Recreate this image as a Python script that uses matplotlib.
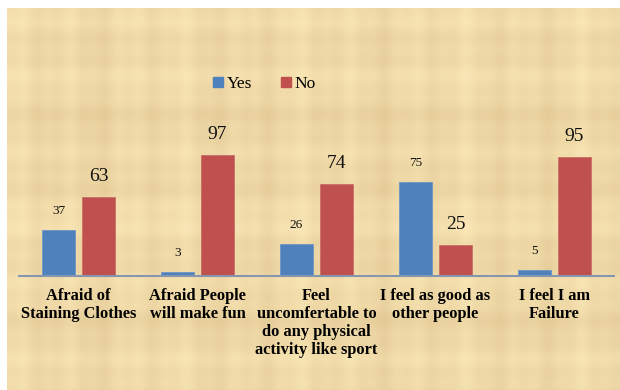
import matplotlib
matplotlib.use("Agg")
import matplotlib.pyplot as plt
import numpy as np
from matplotlib.patches import Rectangle
from matplotlib.lines import Line2D

categories = [
    "Afraid of\nStaining Clothes",
    "Afraid People\nwill make fun",
    "Feel\nuncomfertable to\ndo any physical\nactivity like sport",
    "I feel as good as\nother people",
    "I feel I am\nFailure",
]
yes_values = [37, 3, 26, 75, 5]
no_values = [63, 97, 74, 25, 95]
series_names = ["Yes", "No"]

BLUE = "#4F81BD"
RED = "#C0504D"
SERIF = ["Liberation Serif", "DejaVu Serif"]

W, H = 620, 390
fig = plt.figure(figsize=(W / 100, H / 100), dpi=100, facecolor="white")

# parchment-like chart area: a light tan with faint woven bands
bg = fig.add_axes([0, 0, 1, 1], zorder=-1)
bg.set_xlim(0, W)
bg.set_ylim(H, 0)
bg.axis("off")
xs = np.arange(7, W) + 0.5
ys = np.arange(8, H) + 0.5
XX, YY = np.meshgrid(xs, ys)
weave = (0.45 * np.sin(XX / 9.0) + 0.3 * np.sin(XX / 3.7 + 1.3) + 0.25 * np.sin(XX / 23.0 + 0.7)
         + 0.45 * np.sin(YY / 11.0 + 0.4) + 0.3 * np.sin(YY / 4.1 + 2.1) + 0.25 * np.sin(YY / 29.0))
weave = weave / np.abs(weave).max()
base = np.array([239, 217, 167]) / 255.0
shade = np.array([12, 14, 16]) / 255.0
tex = np.clip(base[None, None, :] + weave[..., None] * shade[None, None, :], 0, 1)
bg.imshow(tex, extent=(7, W, H, 8), interpolation="bilinear", aspect="auto")
bg.set_xlim(0, W)
bg.set_ylim(H, 0)

ax = fig.add_axes([19 / W, (H - 276) / H, 595 / W, 150 / H])
ax.patch.set_alpha(0)

x = np.arange(len(categories))
width = 0.27
offset = 0.168
ax.bar(x - offset, yes_values, width, color=BLUE, edgecolor="#6D95C6", linewidth=0.6)
ax.bar(x + offset, no_values, width, color=RED, edgecolor="#C96E6B", linewidth=0.6)

for xi, v in zip(x, yes_values):
    ax.annotate(str(v), (xi - offset, v), xytext=(0, 11.5), textcoords="offset points",
                ha="center", va="baseline", fontsize=9.5, family=SERIF, color="#111111")
for xi, v in zip(x, no_values):
    ax.annotate(str(v), (xi + offset, v), xytext=(0, 11.5), textcoords="offset points",
                ha="center", va="baseline", fontsize=14, family=SERIF, color="#111111")

ax.set_xlim(-0.5, len(categories) - 0.5)
ax.set_ylim(0, 120)
ax.set_yticks([])
ax.set_xticks(x)
ax.set_xticklabels(categories, fontsize=11.8, fontweight="bold", family=SERIF,
                   linespacing=1.14, va="top")
ax.tick_params(axis="x", length=0, pad=9)
for s in ["top", "right", "left"]:
    ax.spines[s].set_visible(False)
ax.spines["bottom"].set_color("#8496B0")
ax.spines["bottom"].set_linewidth(1.5)

handles = [Line2D([], [], marker="s", linestyle="none", markersize=7,
                  markerfacecolor=c, markeredgecolor=c) for c in (BLUE, RED)]
fig.legend(handles, series_names, loc="center", bbox_to_anchor=(264 / W, (H - 84) / H),
           ncol=2, frameon=False, prop={"family": SERIF, "size": 12.5},
           handlelength=0.7, handletextpad=0.15, columnspacing=1.6, borderpad=0)

fig.savefig("out.png", dpi=100, facecolor="white")
